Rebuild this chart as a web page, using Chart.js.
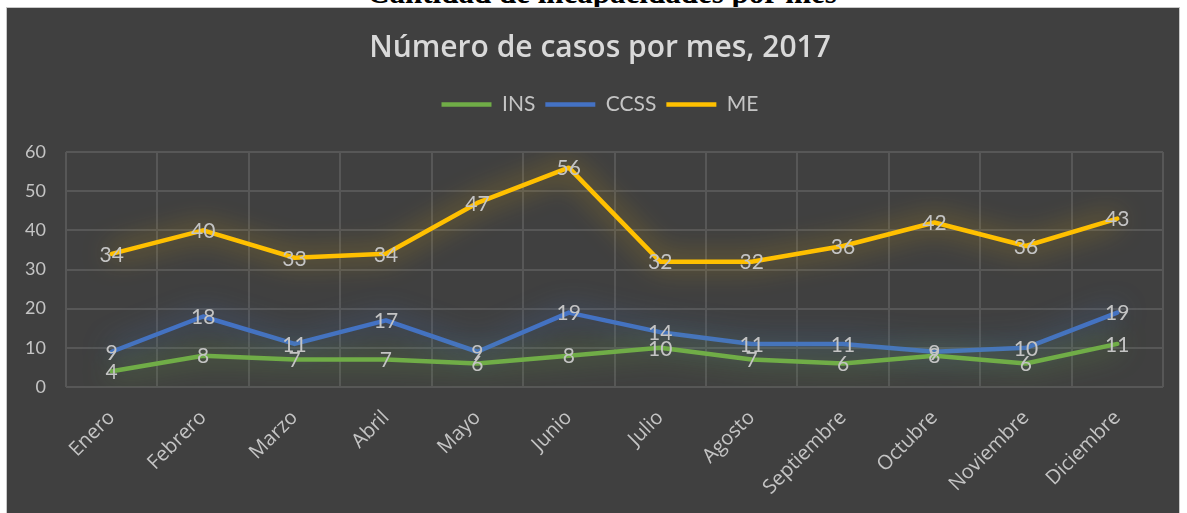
<!DOCTYPE html>
<html>
<head>
<meta charset="utf-8">
<script src="https://cdn.jsdelivr.net/npm/chart.js@4.4.0/dist/chart.umd.min.js"></script>
<style>
  body { margin: 0; background: #fff; width: 1187px; height: 513px; overflow: hidden; position: relative; }
  #cap { position: absolute; left: 0; width: 1204px; top: -26px; text-align: center; font: bold 31px "Liberation Serif"; line-height: 38px; color: #000; white-space: nowrap; }
  #panel { position: absolute; left: 6px; top: 7px; width: 1172px; height: 510px; background: #404040; border: 1px solid #c8c8c8; }
  canvas { display: block; }
</style>
</head>
<body>
<div id="cap">Cantidad de incapacidades por mes</div>
<div id="panel"><canvas id="myChart" width="1172" height="505"></canvas></div>
<script>
// the data
let meses = ["Enero", "Febrero", "Marzo", "Abril", "Mayo", "Junio", "Julio", "Agosto", "Septiembre", "Octubre", "Noviembre", "Diciembre"];
let insCasos = [4, 8, 7, 7, 6, 8, 10, 7, 6, 8, 6, 11];
let ccssCasos = [9, 18, 11, 17, 9, 19, 14, 11, 11, 9, 10, 19];
let meCasos = [34, 40, 33, 34, 47, 56, 32, 32, 36, 42, 36, 43];
let yTicks = [0, 10, 20, 30, 40, 50, 60];

let colores = ["#70ad47", "#4472c4", "#ffc000"];
let brillos = ["rgba(112,173,71,0.9)", "rgba(68,114,196,0.9)", "rgba(255,192,0,0.75)"];
let textColor = "#c4c4c4";

// soft glow round every line
const glow = {
    id: "glow",
    beforeDatasetDraw(chart, args) {
        const ctx = chart.ctx;
        ctx.save();
        ctx.shadowColor = brillos[args.index];
        ctx.shadowBlur = 28;
    },
    afterDatasetDraw(chart) {
        chart.ctx.restore();
    }
};

// value labels centred on the points
const etiquetas = {
    id: "etiquetas",
    afterDatasetsDraw(chart) {
        const ctx = chart.ctx;
        ctx.save();
        ctx.font = "21px Lato";
        ctx.fillStyle = textColor;
        ctx.textAlign = "center";
        ctx.textBaseline = "middle";
        chart.data.datasets.forEach((ds, i) => {
            chart.getDatasetMeta(i).data.forEach((pt, j) => {
                ctx.fillText(ds.data[j], pt.x, pt.y + 1);
            });
        });
        ctx.restore();
    }
};

// leave some room under the legend (legend has no margin option)
const legendGap = {
    id: "legendGap",
    beforeLayout(chart) {
        const lg = chart.legend;
        if (lg && !lg._gap) {
            const fit = lg.fit.bind(lg);
            lg.fit = function () { fit(); this.height += 27; };
            lg._gap = true;
        }
    }
};

const ctx = document.getElementById("myChart").getContext("2d");
const myChart = new Chart(ctx, {
    type: "line",
    data: {
        labels: meses,
        datasets: [
            { label: "INS", data: insCasos, borderColor: colores[0], backgroundColor: colores[0], borderWidth: 4.5 },
            { label: "CCSS", data: ccssCasos, borderColor: colores[1], backgroundColor: colores[1], borderWidth: 4.5 },
            { label: "ME", data: meCasos, borderColor: colores[2], backgroundColor: colores[2], borderWidth: 4.5 }
        ]
    },
    options: {
        responsive: false,
        animation: false,
        layout: { padding: { top: 0, right: 0, bottom: 0, left: 14 } },
        elements: {
            line: { tension: 0, borderJoinStyle: "round", borderCapStyle: "round" },
            point: { radius: 0, hoverRadius: 0 }
        },
        plugins: {
            title: {
                display: true,
                text: "Número de casos por mes, 2017",
                color: "#d9d9d9",
                font: { family: "Open Sans", size: 30, weight: "600" },
                padding: { top: 22, bottom: 18 }
            },
            legend: {
                display: true,
                labels: {
                    color: textColor,
                    font: { family: "Lato", size: 21 },
                    usePointStyle: true,
                    pointStyle: "line",
                    pointStyleWidth: 50,
                    padding: 10
                }
            },
            tooltip: { enabled: false }
        },
        scales: {
            x: {
                offset: true,
                grid: { color: "#575757", lineWidth: 2, offset: true, drawTicks: false },
                border: { display: false },
                ticks: {
                    color: textColor,
                    font: { family: "Open Sans", size: 20 },
                    maxRotation: 45,
                    minRotation: 45,
                    padding: 19
                },
                afterFit(scale) { scale.height = 126; }
            },
            y: {
                min: yTicks[0],
                max: yTicks[yTicks.length - 1],
                grid: { color: "#575757", lineWidth: 2, drawTicks: false },
                border: { display: false },
                ticks: {
                    stepSize: yTicks[1] - yTicks[0],
                    color: textColor,
                    font: { family: "Lato", size: 18 },
                    padding: 20
                },
                afterFit(scale) { scale.width = 45; }
            },
            // empty axis on the right, only keeps the plot clear of the edge
            derecha: {
                type: "linear",
                position: "right",
                grid: { display: false },
                border: { display: false },
                ticks: { display: false },
                afterFit(scale) { scale.width = 16; }
            }
        }
    },
    plugins: [glow, etiquetas, legendGap]
});
</script>
</body>
</html>
